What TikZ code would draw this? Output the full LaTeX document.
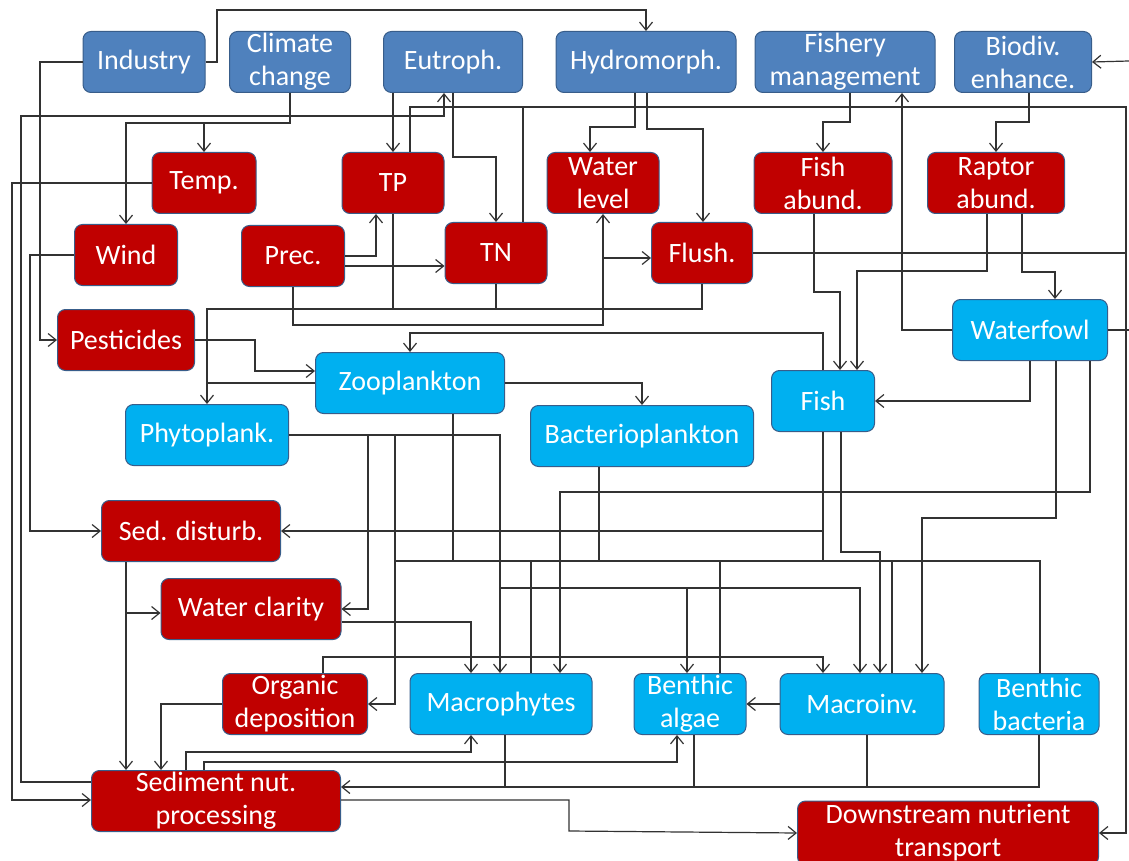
\documentclass[tikz,border=0pt]{standalone}
\usepackage{fontspec}
\setmainfont{Carlito}
\usepackage{tikz}
\usetikzlibrary{arrows.meta}
\definecolor{drvblue}{RGB}{79,129,189}
\definecolor{prsred}{RGB}{192,0,0}
\definecolor{biocyan}{RGB}{0,176,240}
\definecolor{boxedge}{RGB}{56,93,138}
\definecolor{wire}{RGB}{50,50,50}
\tikzset{
  box/.style={rectangle, rounded corners=4pt, draw=boxedge, line width=0.5pt, text=white, align=center, inner sep=0pt, minimum height=30.5pt, font=\fontsize{14}{16.5}\selectfont},
  driver/.style={box, fill=drvblue},
  pressure/.style={box, fill=prsred},
  biota/.style={box, fill=biocyan},
  link/.style={-{Straight Barb[length=4pt,width=6.5pt]}, line width=0.6pt, draw=wire},
  bus/.style={line width=0.6pt, draw=wire}
}
\begin{document}
\begin{tikzpicture}[x=0.5pt, y=-0.5pt]
\useasboundingbox (0,0) rectangle (1129,861);
% drivers
\node[driver, minimum width=61pt] (ind) at (144,62) {Industry};
\node[driver, minimum width=60.5pt] (clim) at (290,62) {Climate\\change};
\node[driver, minimum width=69.5pt] (eut) at (453,62) {Eutroph.};
\node[driver, minimum width=90pt] (hyd) at (646,62) {Hydromorph.};
\node[driver, minimum width=90pt] (fishm) at (845,62) {Fishery\\management};
\node[driver, minimum width=68.5pt] (bio) at (1023,62) {Biodiv.\\enhance.};
% pressures
\node[pressure, minimum width=52pt] (temp) at (204,183) {Temp.};
\node[pressure, minimum width=51pt] (tp) at (393,183) {TP};
\node[pressure, minimum width=56pt] (wl) at (603,183) {Water\\level};
\node[pressure, minimum width=69pt] (fa) at (823,183) {Fish\\abund.};
\node[pressure, minimum width=68.5pt] (ra) at (996,183) {Raptor\\abund.};
\node[pressure, minimum width=51.5pt] (wind) at (126,255) {Wind};
\node[pressure, minimum width=51.5pt] (prec) at (293,256) {Prec.};
\node[pressure, minimum width=51pt] (tn) at (496,253) {TN};
\node[pressure, minimum width=50.5pt] (flush) at (702,253) {Flush.};
\node[pressure, minimum width=68.5pt] (pest) at (126,340) {Pesticides};
% biota
\node[biota, minimum width=77.5pt] (wf) at (1030,330) {Waterfowl};
\node[biota, minimum width=94.5pt] (zoo) at (410,383) {Zooplankton};
\node[biota, minimum width=51.5pt] (fish) at (823,401) {Fish};
\node[biota, minimum width=81.5pt] (phy) at (207,435) {Phytoplank.};
\node[biota, minimum width=111.5pt] (bac) at (642,436) {Bacterioplankton};
\node[pressure, minimum width=89.5pt] (sed) at (191,531) {Sed. disturb.};
\node[pressure, minimum width=90pt] (wc) at (251,609) {Water clarity};
\node[pressure, minimum width=72.5pt] (od) at (295,704) {Organic\\deposition};
\node[biota, minimum width=91pt] (mac) at (501,704) {Macrophytes};
\node[biota, minimum width=56pt] (ba) at (690,704) {Benthic\\algae};
\node[biota, minimum width=82pt] (mi) at (862,704) {Macroinv.};
\node[biota, minimum width=60pt] (bb) at (1039,704) {Benthic\\bacteria};
\node[pressure, minimum width=124.5pt] (snp) at (216,801) {Sediment nut.\\processing};
\node[pressure, minimum width=150.5pt, minimum height=32pt] (dnt) at (948,833) {Downstream nutrient\\transport};
\coordinate (edgebio) at (1129,61);
\coordinate (edgewf) at (1129,330);
% top links
\draw[link] (ind.east) -| (217,10) -| (hyd.north);
\draw[link] (ind.west) -| (40,340) -- (pest.west);
\draw[link] (clim.south) -- (290,123) -| (temp.north);
\draw[link] (clim.south) -- (290,123) -| (wind.north);
\draw[link] (snp.west |- 0,782) -| (21,116) -| (eut.south -| 444,0);
\draw[link] (temp.west) -| (12,800) -- (snp.west |- 0,800);
\draw[link] (wind.west) -| (30,531) -- (sed.west);
\draw[link] (eut.south -| tp.north) -- (tp.north);
\draw[link] (eut.south) -- (453,157) -| (tn.north);
\draw[link] (hyd.south -| 635,0) |- (590,127) -- (wl.north -| 590,0);
\draw[link] (hyd.south -| 647,0) |- (703,129) -- (flush.north -| 703,0);
\draw[link] (fishm.south -| 850,0) |- (823,122) -- (fa.north);
\draw[link] (bio.south -| 1029,0) |- (996,122) -- (ra.north);
\draw[link] (edgebio) -- (bio.east);
% to downstream
\draw[link] (tp.north -| 410,0) |- (1126,107) |- (dnt.east);
\draw[bus] (tn.north -| 523,0) -- (523,107);
\draw[bus] (flush.east) -- (1126,253);
\draw[bus] (wf.east) -- (edgewf);
% precipitation
\draw[link] (prec.east) -| (tp.south -| 376,0);
\draw[link] (prec.east |- 0,266) -- (tn.west |- 0,266);
\draw[link] (prec.south) |- (603,325) -- (wl.south);
\draw[link] (603,258) -- (flush.west |- 0,258);
% to phytoplankton
\draw[link] (tp.south) |- (207,309) -- (phy.north);
\draw[bus] (tn.south) -- (496,309);
\draw[bus] (flush.south) |- (393,309);
\draw[bus] (zoo.west) -- (207,383);
% fish, birds
\draw[link] (fish.north) |- (410,333) -- (zoo.north);
\draw[link] (fa.south -| 814,0) |- (840,292) -- (fish.north -| 840,0);
\draw[link] (ra.south -| 987,0) |- (857,271) -- (fish.north -| 857,0);
\draw[link] (ra.south -| 1022,0) |- (1055,272) -- (wf.north -| 1055,0);
\draw[link] (wf.west) -| (fishm.south -| 902,0);
\draw[link] (wf.south) |- (fish.east);
\draw[link] (wf.south -| 1056,0) |- (922,518) -- (mi.north -| 922,0);
\draw[link] (wf.south -| 1090,0) |- (560,492) -- (mac.north -| 560,0);
\draw[link] (pest.east) -| (255,371) -- (zoo.west |- 0,371);
\draw[link] (zoo.east) -| (bac.north);
\draw[link] (fish.south) |- (sed.east);
\draw[link] (fish.south -| 841,0) |- (880,552) -- (mi.north -| 880,0);
% to organic deposition
\draw[link] (bb.north -| 1040,0) |- (395,561) |- (od.east);
\draw[bus] (395,435) -- (395,561);
\draw[bus] (zoo.south -| 453,0) -- (453,561);
\draw[bus] (bac.south -| 599,0) -- (599,561);
\draw[bus] (fish.south) -- (823,561);
\draw[bus] (mac.north -| 531,0) -- (531,561);
\draw[bus] (ba.north -| 720,0) -- (720,561);
\draw[bus] (mi.north -| 892,0) -- (892,561);
% phytoplankton effects
\draw[link] (phy.east) -| (mac.north -| 500,0);
\draw[link] (368,435) |- (wc.east);
\draw[link] (500,588) -| (ba.north -| 687,0);
\draw[link] (687,588) -| (mi.north -| 860,0);
\draw[link] (od.north -| 323,0) |- (823,657) -- (mi.north -| 823,0);
\draw[link] (wc.east |- 0,622) -| (mac.north -| 471,0);
% sediment
\draw[link] (sed.south -| 126,0) -- (snp.north -| 126,0);
\draw[link] (126,613) -- (wc.west |- 0,613);
\draw[link] (od.west) -| (snp.north -| 161,0);
\draw[link] (snp.north -| 186,0) |- (471,752) -- (mac.south -| 471,0);
\draw[link] (snp.north -| 204,0) |- (677,762) -- (ba.south -| 677,0);
\draw[link] (bb.south) |- (snp.east |- 0,787);
\draw[bus] (mac.south -| 505,0) -- (505,787);
\draw[bus] (ba.south -| 694,0) -- (694,787);
\draw[bus] (mi.south -| 867,0) -- (867,787);
\draw[link] (snp.east |- 0,800) -| (569,831) -- (dnt.west);
\draw[link] (mi.west) -- (ba.east);
\end{tikzpicture}
\end{document}
